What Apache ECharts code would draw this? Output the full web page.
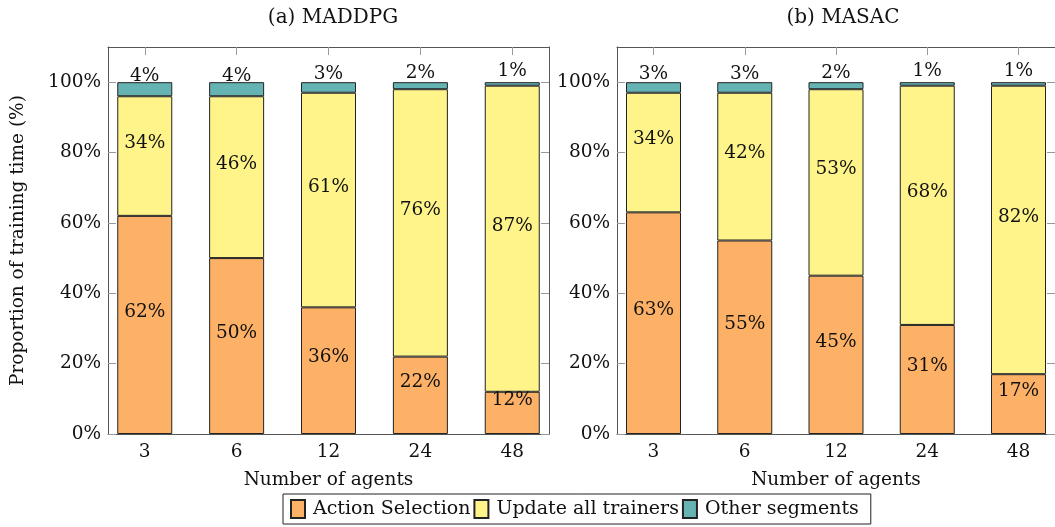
<!DOCTYPE html>
<html>
<head>
<meta charset="utf-8">
<script src="https://cdn.jsdelivr.net/npm/echarts@6/dist/echarts.min.js"></script>
<style>
  html, body { margin: 0; padding: 0; background: #fff; }
  #chart { width: 1055px; height: 527px; }
</style>
</head>
<body>
<div id="chart"></div>
<script>
// number of agents (x categories)
var agents = ['3', '6', '12', '24', '48'];
var yTicks = [0, 20, 40, 60, 80, 100];

// (a) MADDPG
var maddpgAction = [62, 50, 36, 22, 12];
var maddpgUpdate = [34, 46, 61, 76, 87];
var maddpgOther = [4, 4, 3, 2, 1];

// (b) MASAC
var masacAction = [63, 55, 45, 31, 17];
var masacUpdate = [34, 42, 53, 68, 82];
var masacOther = [3, 3, 2, 1, 1];

var names = ['Action Selection', 'Update all trainers', 'Other segments'];
var colors = ['#FDB166', '#FFF48A', '#66B3B3'];

var font = 'DejaVu Serif';
var fs = 18.5;
var frameColor = '#555';
var tickColor = '#999';
var tickIdx = agents.map(function (a, i) { return i; });

var chart = echarts.init(document.getElementById('chart'));

function xAxes(gridIndex) {
    return [
        {
            type: 'value', gridIndex: gridIndex, position: 'bottom',
            min: -0.4, max: 4.4,
            name: 'Number of agents', nameLocation: 'middle', nameGap: 37,
            nameTextStyle: { fontFamily: font, fontSize: fs, color: '#111' },
            axisLine: { show: true, onZero: false, lineStyle: { color: frameColor } },
            axisTick: { inside: true, length: 8, customValues: tickIdx, lineStyle: { color: tickColor } },
            axisLabel: {
                customValues: tickIdx, margin: 9,
                fontFamily: font, fontSize: fs, color: '#111',
                formatter: function (v) { return agents[Math.round(v)]; }
            },
            splitLine: { show: false }
        },
        {
            type: 'value', gridIndex: gridIndex, position: 'top',
            min: -0.4, max: 4.4,
            axisLine: { show: true, onZero: false, lineStyle: { color: frameColor } },
            axisTick: { inside: true, length: 8, customValues: tickIdx, lineStyle: { color: tickColor } },
            axisLabel: { show: false },
            splitLine: { show: false }
        }
    ];
}

function yAxes(gridIndex, withName) {
    return [
        {
            type: 'value', gridIndex: gridIndex, position: 'left',
            min: 0, max: 110,
            name: withName ? 'Proportion of training time (%)' : '',
            nameLocation: 'middle', nameGap: 80,
            nameTextStyle: { fontFamily: font, fontSize: fs, color: '#111' },
            axisLine: { show: true, onZero: false, lineStyle: { color: frameColor } },
            axisTick: { inside: true, length: 8, customValues: yTicks, lineStyle: { color: tickColor } },
            axisLabel: {
                customValues: yTicks, margin: 7,
                fontFamily: font, fontSize: fs, color: '#111',
                formatter: '{value}%'
            },
            splitLine: { show: false }
        },
        {
            type: 'value', gridIndex: gridIndex, position: 'right',
            min: 0, max: 110,
            axisLine: { show: true, onZero: false, lineStyle: { color: frameColor } },
            axisTick: { inside: true, length: 8, customValues: yTicks, lineStyle: { color: tickColor } },
            axisLabel: { show: false },
            splitLine: { show: false }
        }
    ];
}

function barSeries(name, color, values, gridIndex, stack) {
    return {
        name: name,
        type: 'bar',
        stack: stack,
        xAxisIndex: gridIndex * 2,
        yAxisIndex: gridIndex * 2,
        barWidth: 55,
        encode: { x: 1, y: 0 },
        itemStyle: { color: color, borderColor: '#222', borderWidth: 1 },
        label: {
            show: true, position: 'inside', offset: [0, -13],
            fontFamily: font, fontSize: fs, color: '#111',
            formatter: function (p) { return p.value[0] + '%'; }
        },
        data: values.map(function (v, i) { return [v, i]; })
    };
}

var option = {
    animation: false,
    title: [
        { text: '(a) MADDPG', left: 328, top: 3, textAlign: 'center',
          textStyle: { fontFamily: font, fontSize: 20, fontWeight: 'normal', color: '#111' } },
        { text: '(b) MASAC', left: 838, top: 3, textAlign: 'center',
          textStyle: { fontFamily: font, fontSize: 20, fontWeight: 'normal', color: '#111' } }
    ],
    legend: {
        data: names,
        left: 283, top: 494,
        padding: [5, 12, 5, 7],
        itemGap: 3, itemWidth: 14, itemHeight: 18,
        icon: 'rect',
        borderColor: '#222', borderWidth: 1,
        textStyle: { fontFamily: font, fontSize: 19, color: '#111', padding: [0, 0, 0, 3] }
    },
    grid: [
        { left: 108, top: 47, width: 441, height: 387 },
        { left: 617, top: 47, width: 441, height: 387 }
    ],
    xAxis: xAxes(0).concat(xAxes(1)),
    yAxis: yAxes(0, true).concat(yAxes(1, false)),
    series: [
        barSeries(names[0], colors[0], maddpgAction, 0, 'a'),
        barSeries(names[1], colors[1], maddpgUpdate, 0, 'a'),
        barSeries(names[2], colors[2], maddpgOther, 0, 'a'),
        barSeries(names[0], colors[0], masacAction, 1, 'b'),
        barSeries(names[1], colors[1], masacUpdate, 1, 'b'),
        barSeries(names[2], colors[2], masacOther, 1, 'b')
    ]
};

chart.setOption(option);
</script>
</body>
</html>
